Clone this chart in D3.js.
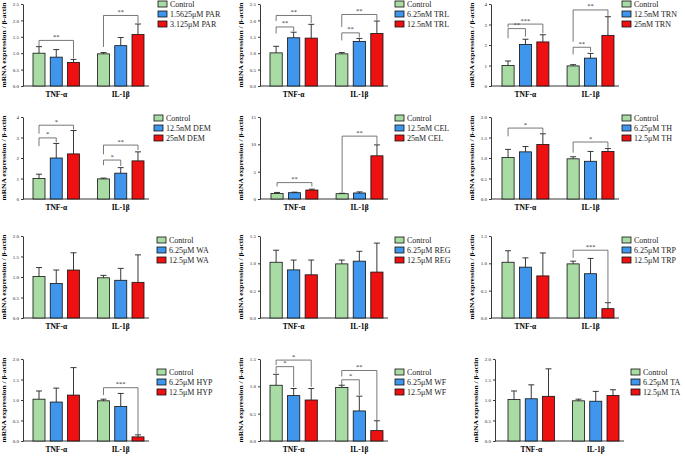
<!DOCTYPE html>
<html><head><meta charset="utf-8">
<script src="https://cdn.jsdelivr.net/npm/d3@7"></script>
<style>body{margin:0;background:#fff}svg{display:block}</style>
</head><body>
<script>
// ---------- DATA ----------
const groups = ["TNF-α", "IL-1β"];
const lowDose = ["1.5625μM PAR","6.25nM TRL","12.5nM TRN","12.5nM DEM","12.5nM CEL","6.25μM TH",
                 "6.25μM WA","6.25μM REG","6.25μM TRP","6.25μM HYP","6.25μM WF","6.25μM TA"];
const highDose = ["3.125μM PAR","12.5nM TRL","25nM TRN","25nM DEM","25nM CEL","12.5μM TH",
                  "12.5μM WA","12.5μM REG","12.5μM TRP","12.5μM HYP","12.5μM WF","12.5μM TA"];
const yMax  = [2.5, 2.5, 4, 4, 15, 2.0, 2.0, 1.5, 1.5, 2.0, 1.5, 2.0];
const yStep = [0.5, 0.5, 1, 1, 5, 0.5, 0.5, 0.5, 0.5, 0.5, 0.5, 0.5];
// [Control, low dose, high dose]
const tnfMean = [[1.0,0.88,0.72],[1.01,1.47,1.46],[1.0,2.03,2.15],[1.0,2.0,2.2],[1.0,1.15,1.64],[1.01,1.15,1.33],
                 [1.01,0.84,1.17],[1.02,0.88,0.79],[1.02,0.93,0.77],[1.02,0.95,1.12],[1.02,0.83,0.75],[1.01,1.03,1.09]];
const tnfErr  = [[0.2,0.23,0.09],[0.2,0.17,0.42],[0.22,0.25,0.35],[0.21,0.71,1.14],[0.2,0.1,0.16],[0.2,0.13,0.26],
                 [0.22,0.33,0.42],[0.22,0.18,0.27],[0.21,0.17,0.42],[0.2,0.34,0.67],[0.2,0.13,0.21],[0.21,0.34,0.67]];
const ilMean  = [[0.98,1.23,1.57],[0.98,1.36,1.6],[0.98,1.36,2.47],[0.98,1.26,1.86],[0.97,1.1,7.9],[0.98,0.92,1.16],
                 [0.98,0.92,0.87],[0.99,1.04,0.84],[0.99,0.81,0.17],[0.98,0.84,0.1],[0.98,0.55,0.19],[0.98,0.97,1.11]];
const ilErr   = [[0.04,0.25,0.32],[0.04,0.09,0.38],[0.06,0.23,0.91],[0.04,0.27,0.44],[0.08,0.2,2.0],[0.05,0.24,0.07],
                 [0.06,0.29,0.67],[0.07,0.18,0.53],[0.05,0.28,0.11],[0.04,0.32,0.05],[0.04,0.27,0.18],[0.04,0.24,0.14]];
// significance: [panel, group, barA, barB, level, legEndA, legEndB, label]
const brackets = [
  [0,0,0,2,1.39,1.21,0.84,"**"],[0,1,0,2,2.15,1.19,1.92,"**"],
  [1,0,0,1,1.80,1.60,1.67,"**"],[1,0,0,2,2.15,1.98,1.92,"**"],[1,1,0,1,1.62,1.39,1.48,"**"],[1,1,0,2,2.18,1.80,2.00,"**"],
  [2,0,0,1,2.80,2.33,2.41,"**"],[2,0,0,2,3.02,2.86,2.57,"***"],[2,1,0,1,1.89,1.54,1.67,"**"],[2,1,0,2,3.71,2.16,3.41,"**"],
  [3,0,0,1,2.98,2.58,2.77,"*"],[3,0,0,2,3.60,3.19,3.39,"*"],[3,1,0,1,1.90,1.65,1.61,"*"],[3,1,0,2,2.63,2.18,2.39,"**"],
  [4,0,0,2,3.0,2.3,2.3,"**"],[4,1,0,2,11.5,1.2,10.0,"**"],
  [5,0,0,2,1.73,1.53,1.60,"*"],[5,1,0,2,1.39,1.13,1.25,"*"],
  [8,1,0,2,1.24,1.10,0.29,"***"],
  [9,1,0,2,1.30,1.12,0.16,"***"],
  [10,0,0,1,1.36,1.24,0.99,"*"],[10,0,0,2,1.48,1.39,0.99,"*"],[10,1,0,1,1.12,1.02,0.84,"*"],[10,1,0,2,1.29,1.18,0.38,"**"]
];

// ---------- LAYOUT ----------
const W = 685, H = 456;
const colX = [0, 228, 456];
const rowTop = [4, 117, 236, 359];
const plotH = 82;
const axisXs  = [23,32,35, 23,32,35, 23,32,35, 23,32,39];
const barL    = [33,42,46, 33,43,46, 33,42,46, 33,42,52];
const barR    = [144,155,158, 144,155,158, 144,155,158, 144,155,163];
const legXs   = [158,167,166, 154,167,166, 157,167,166, 157,167,175];
const legYs   = [0, 0, 0, 1, 1, 1, -1, -1, -1, -1, -1, -1];
const colors = ["#a9dca4", "#3f96ec", "#ee1111"];
const serif = "'Liberation Serif','Times New Roman',serif";

const svg = d3.select("body").append("svg").attr("width", W).attr("height", H)
  .style("font-family", serif);

for (let k = 0; k < 12; k++) {
  const col = k % 3, row = Math.floor(k / 3);
  const g = svg.append("g").attr("transform", `translate(${colX[col]},${rowTop[row]})`);
  const y = d3.scaleLinear().domain([0, yMax[k]]).range([plotH, 0]);
  const x0 = d3.scaleBand().domain(groups).range([barL[k], barR[k]]).paddingInner(0.279);
  const x1 = d3.scaleBand().domain([0,1,2]).range([0, x0.bandwidth()]).paddingInner(0.304);
  const ax = axisXs[k];
  const ticks = d3.range(0, yMax[k] + 1e-9, yStep[k]);
  const fmt = yStep[k] < 1 ? d3.format(".1f") : d3.format("d");

  // y axis
  const ya = g.append("g").attr("transform", `translate(${ax},0)`)
    .call(d3.axisLeft(y).tickValues(ticks).tickFormat(fmt).tickSize(2).tickSizeOuter(0).tickPadding(2));
  ya.selectAll("text").style("font-size", "5px").style("font-family", serif).attr("fill", "#222");
  ya.selectAll("line,path").attr("stroke", "#222").attr("stroke-width", 0.9);

  // x axis baseline
  g.append("line").attr("x1", ax).attr("x2", barR[k] + 5).attr("y1", plotH).attr("y2", plotH)
    .attr("stroke", "#222").attr("stroke-width", 0.9);
  g.selectAll("text.grp").data(groups).join("text").attr("class","grp")
    .attr("x", d => x0(d) + x0.bandwidth()/2).attr("y", plotH + 10.5)
    .attr("text-anchor", "middle").style("font-size", "7.5px").style("font-weight", "bold")
    .text(d => d);

  // y label
  g.append("text").attr("transform", `translate(${ax - 17},${plotH/2}) rotate(-90)`)
    .attr("text-anchor", "middle").style("font-size", "6.3px").style("font-weight", "bold")
    .attr("textLength", 85).attr("lengthAdjust", "spacingAndGlyphs")
    .text("mRNA expression / β-actin");

  // bars
  const rows = [];
  groups.forEach((gr, gi) => {
    const m = gi === 0 ? tnfMean[k] : ilMean[k];
    const e = gi === 0 ? tnfErr[k] : ilErr[k];
    m.forEach((v, i) => rows.push({gr, i, v, e: e[i]}));
  });
  const bx = d => x0(d.gr) + x1(d.i);
  g.selectAll("rect.bar").data(rows).join("rect").attr("class","bar")
    .attr("x", bx).attr("width", x1.bandwidth())
    .attr("y", d => y(d.v)).attr("height", d => plotH - y(d.v))
    .attr("fill", d => colors[d.i]).attr("stroke", "#111").attr("stroke-width", 0.8);
  // error bars (upper)
  const eb = g.selectAll("g.err").data(rows).join("g").attr("class","err")
    .attr("stroke", "#222").attr("stroke-width", 0.9);
  eb.append("line").attr("x1", d => bx(d) + x1.bandwidth()/2).attr("x2", d => bx(d) + x1.bandwidth()/2)
    .attr("y1", d => y(d.v)).attr("y2", d => y(d.v + d.e));
  eb.append("line").attr("x1", d => bx(d) + x1.bandwidth()/2 - 3).attr("x2", d => bx(d) + x1.bandwidth()/2 + 3)
    .attr("y1", d => y(d.v + d.e)).attr("y2", d => y(d.v + d.e));

  // brackets
  const bs = brackets.filter(b => b[0] === k);
  bs.forEach(b => {
    const gr = groups[b[1]];
    const xa = x0(gr) + x1(b[2]) + x1.bandwidth()/2;
    const xb = x0(gr) + x1(b[3]) + x1.bandwidth()/2;
    g.append("path")
      .attr("d", `M${xa},${y(b[5])}V${y(b[4])}H${xb}V${y(b[6])}`)
      .attr("fill", "none").attr("stroke", "#555").attr("stroke-width", 0.8);
    g.append("text").attr("x", (xa + xb)/2).attr("y", y(b[4]) - 1.5)
      .attr("text-anchor", "middle").style("font-size", "6.5px").attr("fill", "#333").text(b[7]);
  });

  // legend
  const labels = ["Control", lowDose[k], highDose[k]];
  const lg = g.append("g").attr("transform", `translate(${legXs[k]},${legYs[k] + (row === 3 ? 14 : row === 2 ? 5 : 0)})`);
  labels.forEach((t, i) => {
    lg.append("rect").attr("x", 0).attr("y", i*10 - 3).attr("width", 9).attr("height", 6)
      .attr("fill", colors[i]).attr("stroke", "#111").attr("stroke-width", 0.8);
    lg.append("text").attr("x", 12).attr("y", i*10 + 2.6).style("font-size", "8px").attr("fill", "#222").text(t);
  });
}
</script>
</body></html>
